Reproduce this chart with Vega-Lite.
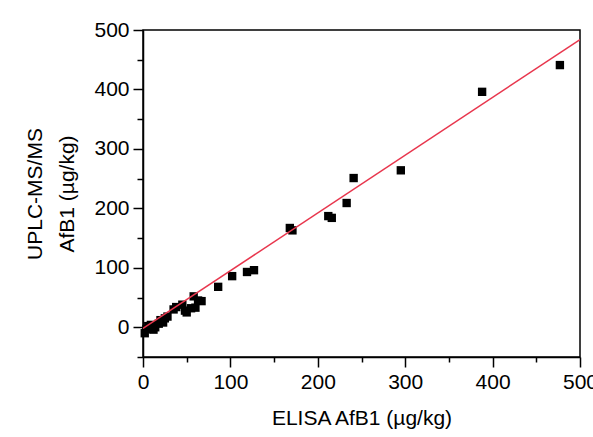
{
  "$schema": "https://vega.github.io/schema/vega-lite/v6.json",
  "autosize": {"type": "none"},
  "padding": {"left": 143, "top": 30, "right": 13, "bottom": 80},
  "width": 437,
  "height": 327,
  "background": "white",
  "datasets": {
    "samples": [
      {"elisa": 2, "uplc": -10},
      {"elisa": 4, "uplc": -3},
      {"elisa": 6, "uplc": 2},
      {"elisa": 9, "uplc": 4},
      {"elisa": 12, "uplc": -4},
      {"elisa": 14, "uplc": 0},
      {"elisa": 18, "uplc": 6},
      {"elisa": 20, "uplc": 12},
      {"elisa": 23, "uplc": 8},
      {"elisa": 25, "uplc": 15},
      {"elisa": 28, "uplc": 18},
      {"elisa": 35, "uplc": 30},
      {"elisa": 38, "uplc": 34},
      {"elisa": 45, "uplc": 38},
      {"elisa": 48, "uplc": 28},
      {"elisa": 50, "uplc": 25},
      {"elisa": 55, "uplc": 32},
      {"elisa": 58, "uplc": 52},
      {"elisa": 60, "uplc": 33},
      {"elisa": 63, "uplc": 45},
      {"elisa": 67, "uplc": 44},
      {"elisa": 86, "uplc": 68},
      {"elisa": 102, "uplc": 86},
      {"elisa": 119, "uplc": 93},
      {"elisa": 127, "uplc": 96},
      {"elisa": 168, "uplc": 167},
      {"elisa": 171, "uplc": 163},
      {"elisa": 212, "uplc": 187},
      {"elisa": 216, "uplc": 184},
      {"elisa": 233, "uplc": 209},
      {"elisa": 241, "uplc": 251},
      {"elisa": 295, "uplc": 264},
      {"elisa": 388, "uplc": 396},
      {"elisa": 477, "uplc": 441}
    ],
    "fit": [
      {"elisa": 0, "uplc": -2},
      {"elisa": 500, "uplc": 484}
    ]
  },
  "resolve": {"axis": {"x": "independent", "y": "independent"}},
  "layer": [
    {
      "data": {"name": "samples"},
      "mark": {"type": "point", "shape": "square", "filled": true, "color": "black", "opacity": 1, "size": 70, "strokeWidth": 0},
      "encoding": {
        "x": {"field": "elisa", "type": "quantitative",
          "scale": {"domain": [0, 500], "nice": false, "zero": false},
          "axis": {"orient": "bottom", "values": [50, 150, 250, 350, 450], "labels": false, "title": null, "tickSize": 5, "domain": false}},
        "y": {"field": "uplc", "type": "quantitative",
          "scale": {"domain": [-50, 500], "nice": false, "zero": false},
          "axis": {"orient": "left", "values": [-50, 50, 150, 250, 350, 450], "labels": false, "title": null, "tickSize": 6, "domain": false}}
      }
    },
    {
      "data": {"name": "fit"},
      "mark": {"type": "line", "color": "#e8364d", "strokeWidth": 1.5, "clip": true},
      "encoding": {
        "x": {"field": "elisa", "type": "quantitative",
          "axis": {"orient": "bottom", "values": [0, 100, 200, 300, 400, 500], "title": "ELISA AfB1 (µg/kg)", "tickSize": 10, "labelPadding": 4, "titlePadding": 15, "labelFlush": false, "labelOverlap": false}},
        "y": {"field": "uplc", "type": "quantitative",
          "axis": {"orient": "left", "values": [0, 100, 200, 300, 400, 500], "title": ["UPLC-MS/MS", "AfB1 (µg/kg)"], "tickSize": 10, "labelPadding": 4, "titlePadding": 16, "titleLineHeight": 32, "labelFlush": false, "labelOverlap": false}}
      }
    }
  ],
  "config": {
    "font": "Liberation Sans",
    "view": {"stroke": "black", "strokeWidth": 1.5},
    "axis": {
      "grid": false,
      "labelFont": "Liberation Sans",
      "titleFont": "Liberation Sans",
      "labelFontSize": 21,
      "titleFontSize": 21,
      "titleFontWeight": "normal",
      "labelColor": "black",
      "titleColor": "black",
      "tickColor": "black",
      "domainColor": "black",
      "tickWidth": 1.5,
      "domainWidth": 1.5
    }
  }
}
